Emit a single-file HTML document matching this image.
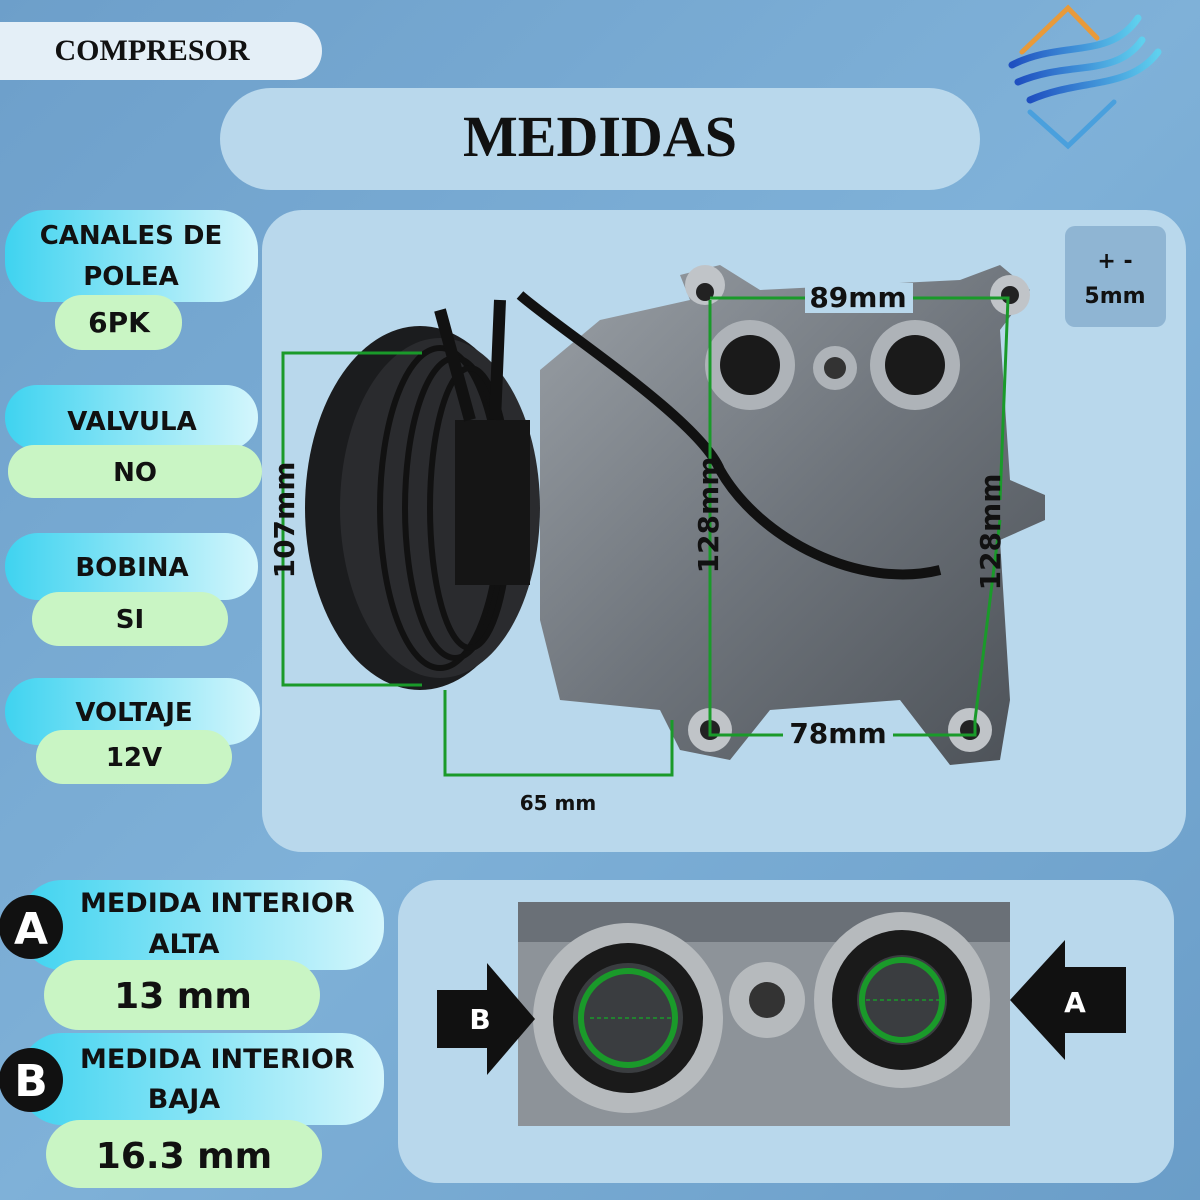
<!DOCTYPE html>
<html><head><meta charset="utf-8"><style>
html,body{margin:0;width:1200px;height:1200px;overflow:hidden}
svg{display:block}
text{font-family:"DejaVu Sans","Liberation Sans",sans-serif;font-weight:bold}
</style></head><body>
<svg width="1200" height="1200" viewBox="0 0 1200 1200" xmlns="http://www.w3.org/2000/svg">
<defs>
<linearGradient id="bg" x1="0" y1="0" x2="1" y2="1"><stop offset="0" stop-color="#6d9fca"/><stop offset="0.5" stop-color="#7fb1d8"/><stop offset="1" stop-color="#6a9dc8"/></linearGradient>
<linearGradient id="cy" x1="0" y1="0" x2="1" y2="0"><stop offset="0" stop-color="#3fd3f0"/><stop offset="1" stop-color="#d4f6fc"/></linearGradient>
<linearGradient id="body" x1="0" y1="0" x2="1" y2="1"><stop offset="0" stop-color="#9aa0a6"/><stop offset="0.5" stop-color="#6f757c"/><stop offset="1" stop-color="#4b5056"/></linearGradient>
<linearGradient id="wave" x1="0" y1="0" x2="1" y2="0"><stop offset="0" stop-color="#1f4fc0"/><stop offset="1" stop-color="#5fd0ee"/></linearGradient>
</defs>
<rect width="1200" height="1200" fill="url(#bg)"/>
<g fill="none" stroke-width="5" stroke-linecap="round">
<polyline points="1022,52 1068,8 1097,38" stroke="#e89a3a"/>
<path d="M1012,65 C1060,40 1110,60 1138,18" stroke="url(#wave)" stroke-width="7"/>
<path d="M1018,82 C1070,60 1115,78 1142,40" stroke="url(#wave)" stroke-width="7"/>
<path d="M1030,100 C1080,78 1130,90 1158,52" stroke="url(#wave)" stroke-width="7"/>
<polyline points="1030,112 1068,146 1114,102" stroke="#4aa0dd"/>
</g>
<rect x="-30" y="22" width="352" height="58" rx="29" fill="#e4eff7"/>
<text x="152" y="60" text-anchor="middle" font-size="30" style="font-family:'Liberation Serif',serif" fill="#111">COMPRESOR</text>
<rect x="220" y="88" width="760" height="102" rx="51" fill="#b9d8ec"/>
<text x="600" y="156" text-anchor="middle" style="font-family:'Liberation Serif',serif" font-size="58" fill="#111">MEDIDAS</text>
<rect x="262" y="210" width="924" height="642" rx="40" fill="#b9d8ec"/>
<rect x="1065" y="226" width="101" height="101" rx="10" fill="#8fb5d3"/>
<text x="1115" y="268" text-anchor="middle" font-size="22" fill="#111">+ -</text>
<text x="1115" y="303" text-anchor="middle" font-size="22" fill="#111">5mm</text>
<path d="M540,370 L600,320 L690,300 L680,275 L720,265 L760,290 L960,280 L1000,265 L1030,290 L1000,330 L1010,480 L1045,495 L1045,520 L1000,540 L1010,700 L1000,760 L950,765 L900,700 L770,710 L730,760 L680,750 L660,710 L560,700 L540,620 Z" fill="url(#body)"/>
<ellipse cx="420" cy="508" rx="115" ry="182" fill="#1b1c1e"/>
<ellipse cx="440" cy="508" rx="100" ry="170" fill="#2a2b2e"/>
<g stroke="#111" stroke-width="6" fill="none">
<ellipse cx="440" cy="508" rx="60" ry="160"/><ellipse cx="455" cy="508" rx="50" ry="150"/><ellipse cx="470" cy="508" rx="40" ry="140"/>
</g>
<rect x="455" y="420" width="75" height="165" fill="#151515"/>
<circle cx="750" cy="365" r="45" fill="#aeb3b8"/><circle cx="750" cy="365" r="30" fill="#1a1a1a"/>
<circle cx="915" cy="365" r="45" fill="#aeb3b8"/><circle cx="915" cy="365" r="30" fill="#1a1a1a"/>
<circle cx="835" cy="368" r="22" fill="#aeb3b8"/><circle cx="835" cy="368" r="11" fill="#333"/>
<path d="M520,295 C560,330 700,420 720,470 C760,540 860,590 940,570" stroke="#111" stroke-width="10" fill="none"/>
<path d="M440,310 L470,420 M500,300 L495,420" stroke="#111" stroke-width="12" fill="none"/>
<circle cx="1010" cy="295" r="20" fill="#c0c4c8"/><circle cx="1010" cy="295" r="9" fill="#222"/>
<circle cx="705" cy="285" r="20" fill="#c0c4c8"/><circle cx="705" cy="292" r="9" fill="#222"/>
<circle cx="710" cy="730" r="22" fill="#c0c4c8"/><circle cx="710" cy="730" r="10" fill="#222"/>
<circle cx="970" cy="730" r="22" fill="#c0c4c8"/><circle cx="970" cy="730" r="10" fill="#222"/>
<g stroke="#1a9a2a" stroke-width="3" fill="none">
<polyline points="422,353 283,353 283,685 422,685"/>
<polyline points="445,690 445,775 672,775 672,720"/>
<polyline points="710,300 710,735 975,735 975,720"/>
<polyline points="710,298 1008,298 1000,500"/>
<polyline points="1000,520 990,600 975,720"/>
</g>
<g font-size="28" fill="#111">
<rect x="805" y="283" width="108" height="30" fill="#b9d8ec"/>
<text x="858" y="307" text-anchor="middle">89mm</text>
<rect x="783" y="718" width="110" height="30" fill="#b9d8ec"/>
<text x="838" y="743" text-anchor="middle">78mm</text>
<text transform="translate(294,520) rotate(-90)" text-anchor="middle">107mm</text>
<text transform="translate(718,515) rotate(-90)" text-anchor="middle">128mm</text>
<text transform="translate(1000,532) rotate(-90)" text-anchor="middle">128mm</text>
</g>
<text x="558" y="810" text-anchor="middle" font-size="20" fill="#111">65 mm</text>
<g font-size="26" fill="#111" text-anchor="middle">
<rect x="5" y="210" width="253" height="92" rx="40" fill="url(#cy)"/>
<text x="131" y="244">CANALES DE</text><text x="131" y="285">POLEA</text>
<rect x="55" y="295" width="127" height="55" rx="27" fill="#c9f5c4"/><text x="119" y="332" font-size="28">6PK</text>
<rect x="5" y="385" width="253" height="65" rx="32" fill="url(#cy)"/><text x="132" y="430">VALVULA</text>
<rect x="8" y="445" width="254" height="53" rx="26" fill="#c9f5c4"/><text x="135" y="481">NO</text>
<rect x="5" y="533" width="253" height="67" rx="33" fill="url(#cy)"/><text x="132" y="576">BOBINA</text>
<rect x="32" y="592" width="196" height="54" rx="27" fill="#c9f5c4"/><text x="130" y="628">SI</text>
<rect x="5" y="678" width="255" height="67" rx="33" fill="url(#cy)"/><text x="134" y="721">VOLTAJE</text>
<rect x="36" y="730" width="196" height="54" rx="27" fill="#c9f5c4"/><text x="134" y="766">12V</text>
<rect x="20" y="880" width="364" height="90" rx="42" fill="url(#cy)"/>
<text x="80" y="912" font-size="27" text-anchor="start">MEDIDA INTERIOR</text><text x="184" y="953" font-size="27">ALTA</text>
<rect x="44" y="960" width="276" height="70" rx="35" fill="#c9f5c4"/><text x="183" y="1008" font-size="36">13 mm</text>
<rect x="20" y="1033" width="364" height="92" rx="42" fill="url(#cy)"/>
<text x="80" y="1068" font-size="27" text-anchor="start">MEDIDA INTERIOR</text><text x="184" y="1108" font-size="27">BAJA</text>
<rect x="46" y="1120" width="276" height="68" rx="34" fill="#c9f5c4"/><text x="184" y="1168" font-size="36">16.3 mm</text>
<circle cx="31" cy="927" r="32" fill="#111"/><text x="31" y="944" fill="#fff" font-size="44">A</text>
<circle cx="31" cy="1080" r="32" fill="#111"/><text x="31" y="1096" fill="#fff" font-size="44">B</text>
</g>
<rect x="398" y="880" width="776" height="303" rx="40" fill="#b9d8ec"/>
<rect x="518" y="902" width="492" height="224" fill="#8d9399"/>
<rect x="518" y="902" width="492" height="40" fill="#6a7077"/>
<circle cx="628" cy="1018" r="95" fill="#b6babd"/><circle cx="628" cy="1018" r="75" fill="#1a1a1a"/><circle cx="628" cy="1018" r="55" fill="#3a3d40"/>
<circle cx="902" cy="1000" r="88" fill="#b6babd"/><circle cx="902" cy="1000" r="70" fill="#1a1a1a"/><circle cx="902" cy="1000" r="45" fill="#3a3d40"/>
<circle cx="767" cy="1000" r="38" fill="#b6babd"/><circle cx="767" cy="1000" r="18" fill="#333"/>
<g stroke="#1a9a2a" stroke-width="6" fill="none"><circle cx="628" cy="1018" r="47"/><circle cx="902" cy="1000" r="40"/></g>
<g stroke="#1a9a2a" stroke-width="1.5" stroke-dasharray="4,3"><line x1="590" y1="1018" x2="675" y2="1018"/><line x1="866" y1="1000" x2="940" y2="1000"/></g>
<path d="M437,990 L487,990 L487,963 L535,1019 L487,1075 L487,1048 L437,1048 Z" fill="#111"/>
<text x="480" y="1029" text-anchor="middle" font-size="28" fill="#fff">B</text>
<path d="M1126,967 L1065,967 L1065,940 L1010,1000 L1065,1060 L1065,1033 L1126,1033 Z" fill="#111"/>
<text x="1075" y="1012" text-anchor="middle" font-size="28" fill="#fff">A</text>
</svg>
</body></html>
